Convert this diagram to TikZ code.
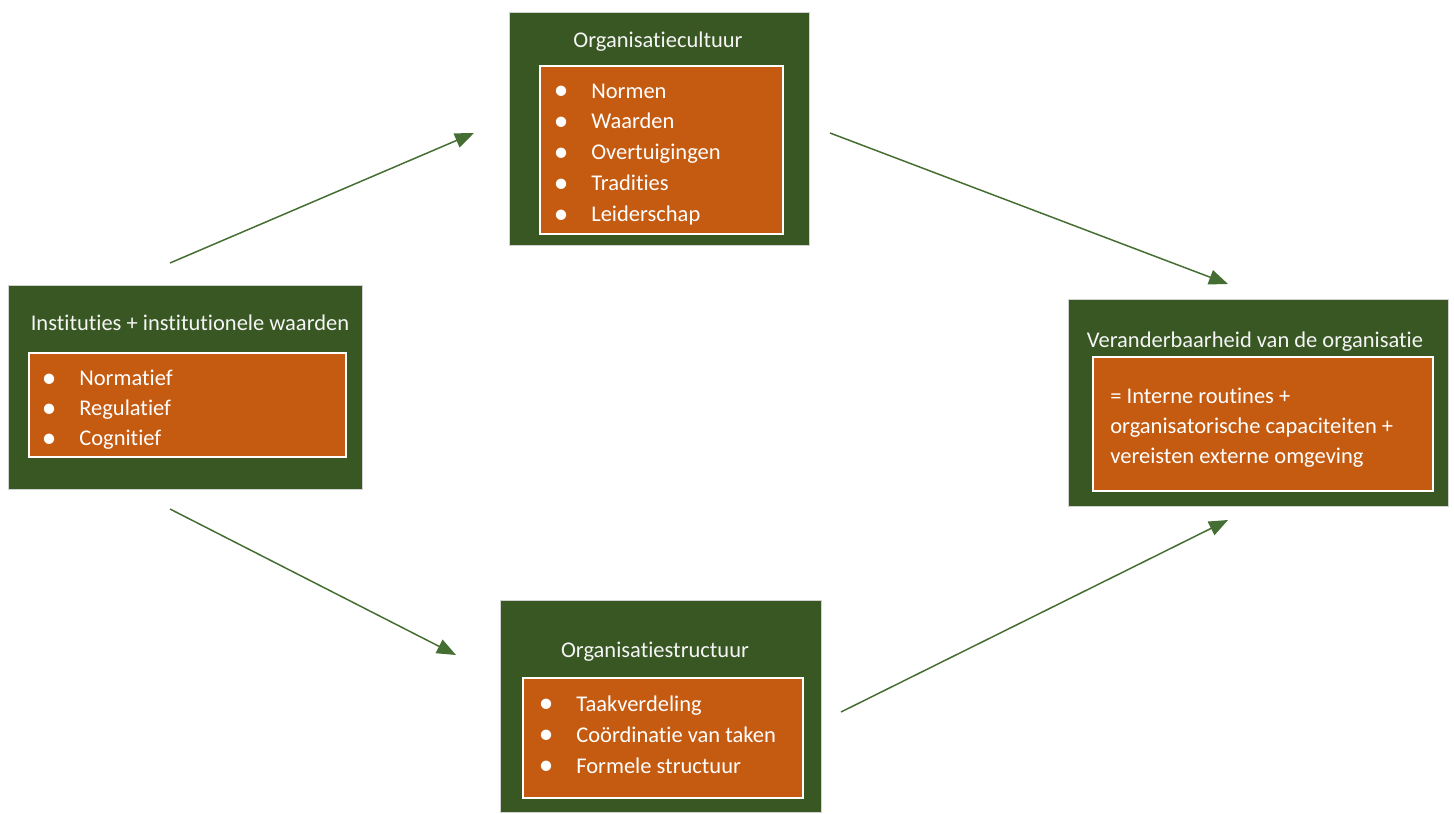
\documentclass[tikz,border=0pt]{standalone}
\usepackage{fontspec}
\setmainfont{Carlito}[Ligatures=NoCommon]
\usetikzlibrary{arrows.meta}
\definecolor{darkgreen}{HTML}{385723}
\definecolor{burnt}{HTML}{C55A11}
\definecolor{arrowgreen}{HTML}{456E33}
\def\itm#1{\makebox[0.75cm][l]{\raisebox{-0.06em}{\scalebox{1.3}{\textbullet}}}#1}
\tikzset{
  greenbox/.style={fill=darkgreen, draw=gray!35, line width=0.4pt, inner sep=0pt},
  orangebox/.style={fill=burnt, draw=white, line width=1.1pt, inner sep=0pt},
  boxtitle/.style={text=white!92!gray, font=\fontsize{12.8}{15}\selectfont, inner sep=0pt},
  itemlist/.style={text=white, align=left, anchor=west, inner sep=0pt},
  flow/.style={draw=arrowgreen, line width=0.85pt, -{Triangle[length=0.38cm, width=0.3cm]}}
}
\begin{document}
\begin{tikzpicture}[x=0.02cm,y=-0.02cm]
				%%%%% START %%%%%
				\useasboundingbox (0,0) rectangle (1454,814);

				% organisatiecultuur
				\node[greenbox, minimum width=6cm, minimum height=4.66cm] (cult) at (659,128.5) {};
				\node[orangebox, minimum width=4.86cm, minimum height=3.36cm] (cultlist) at (661.5,150) {};
				\node[boxtitle] (culttitle) at (658,42) {Organisatiecultuur};
				\node[itemlist, font=\fontsize{12.8}{17.6}\selectfont] (cultitems) at (553.5,154.5)
					{\itm{Normen}\\ \itm{Waarden}\\ \itm{Overtuigingen}\\ \itm{Tradities}\\ \itm{Leiderschap}};

				% instituties
				\node[greenbox, minimum width=7.08cm, minimum height=4.08cm] (inst) at (185,387) {};
				\node[orangebox, minimum width=6.34cm, minimum height=2.08cm] (instlist) at (187.5,405) {};
				\node[boxtitle] (insttitle) at (190,323) {Instituties + institutionele waarden};
				\node[itemlist, font=\fontsize{12.8}{17}\selectfont] (institems) at (41.5,410)
					{\itm{Normatief}\\ \itm{Regulatief}\\ \itm{Cognitief}};

				% veranderbaarheid
				\node[greenbox, minimum width=7.6cm, minimum height=4.14cm] (change) at (1258,402.5) {};
				\node[orangebox, minimum width=6.8cm, minimum height=2.68cm] (changelist) at (1263,424) {};
				\node[boxtitle] (changetitle) at (1255,342) {Veranderbaarheid van de organisatie};
				\node[itemlist, font=\fontsize{12.8}{17}\selectfont] (changeitems) at (1110,427.5)
					{= Interne routines +\\ organisatorische capaciteiten +\\ vereisten externe omgeving};

				% organisatiestructuur
				\node[greenbox, minimum width=6.42cm, minimum height=4.24cm] (struct) at (660.5,706) {};
				\node[orangebox, minimum width=5.6cm, minimum height=2.4cm] (structlist) at (663,738) {};
				\node[boxtitle] (structtitle) at (655,652) {Organisatiestructuur};
				\node[itemlist, font=\fontsize{12.8}{17.6}\selectfont] (structitems) at (538.5,735)
					{\itm{Taakverdeling}\\ \itm{Coördinatie van taken}\\ \itm{Formele structuur}};

				% arrows
				\coordinate (instup) at (170,263);
				\coordinate (cultin) at (474,133);
				\coordinate (cultout) at (830,133);
				\coordinate (changeup) at (1228,284);
				\coordinate (instdown) at (170,509);
				\coordinate (structin) at (456,655);
				\coordinate (structout) at (841,712);
				\coordinate (changedown) at (1228,520);

				\draw[flow] (instup) -- (cultin);
				\draw[flow] (cultout) -- (changeup);
				\draw[flow] (instdown) -- (structin);
				\draw[flow] (structout) -- (changedown);
				%%%%% START %%%%%
\end{tikzpicture}
\end{document}
